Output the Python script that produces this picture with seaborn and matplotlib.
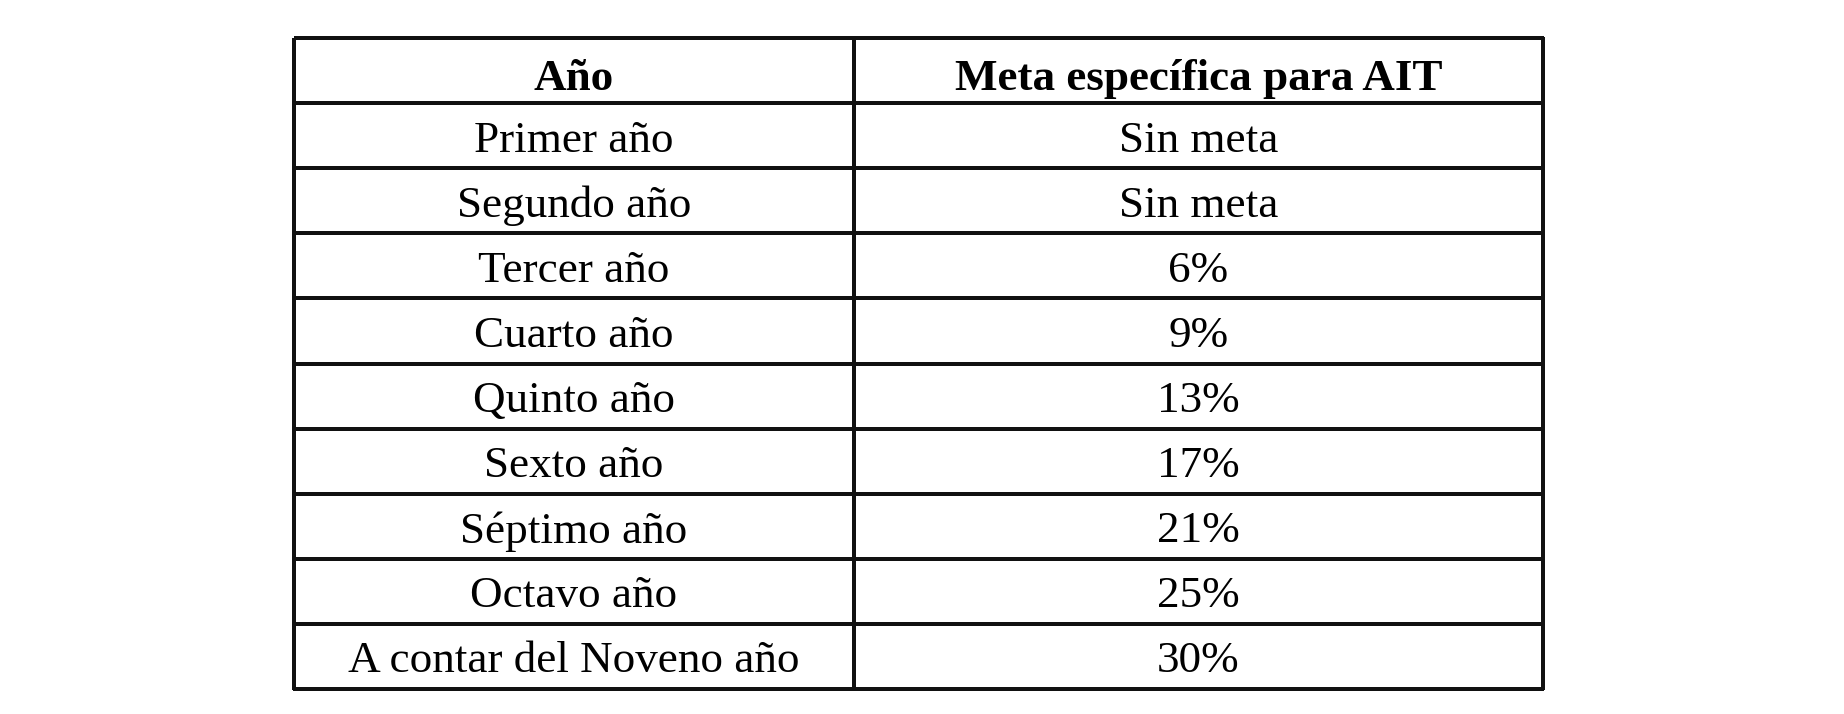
import numpy as np
import pandas as pd
import matplotlib
matplotlib.use("Agg")
import matplotlib.pyplot as plt
from matplotlib.colors import ListedColormap
import seaborn as sns

# ---- data ----
header_year = "Año"
header_goal = "Meta específica para AIT"
years = ["Primer año", "Segundo año", "Tercer año", "Cuarto año", "Quinto año",
         "Sexto año", "Séptimo año", "Octavo año", "A contar del Noveno año"]
goals = ["Sin meta", "Sin meta", "6%", "9%", "13%", "17%", "21%", "25%", "30%"]

sns.set_theme(style="white")
plt.rcParams['font.family'] = ['Liberation Serif', 'DejaVu Serif']

W, H = 1844, 714
fig = plt.figure(figsize=(W / 100, H / 100), dpi=100)
fig.patch.set_facecolor("white")

top, bottom = 38, 689
x0, xm, x1 = 294, 854, 1543
row_px = (bottom - top) / 10.0

col1 = [header_year] + years
col2 = [header_goal] + goals

def draw_col(left, right, labels):
    ax = fig.add_axes([left / W, 1 - bottom / H, (right - left) / W, (bottom - top) / H])
    df = pd.DataFrame({"v": np.zeros(len(labels))})
    ann = np.array(labels, dtype=object).reshape(-1, 1)
    sns.heatmap(df, ax=ax, cmap=ListedColormap(["white"]), cbar=False,
                annot=ann, fmt="", linewidths=1.6, linecolor="#111111",
                xticklabels=False, yticklabels=False,
                annot_kws=dict(fontsize=32.5, color="black",
                               family=['Liberation Serif', 'DejaVu Serif']))
    ax.collections[0].set_clip_on(False)
    for i, t in enumerate(ax.texts):
        x, y = t.get_position()
        shift = (8 if i == 0 else 5) / row_px
        t.set_position((x, y + shift))
    ax.texts[0].set_fontweight("bold")
    return ax

draw_col(x0, xm, col1)
draw_col(xm, x1, col2)

fig.savefig("out.png", dpi=100, facecolor="white")
